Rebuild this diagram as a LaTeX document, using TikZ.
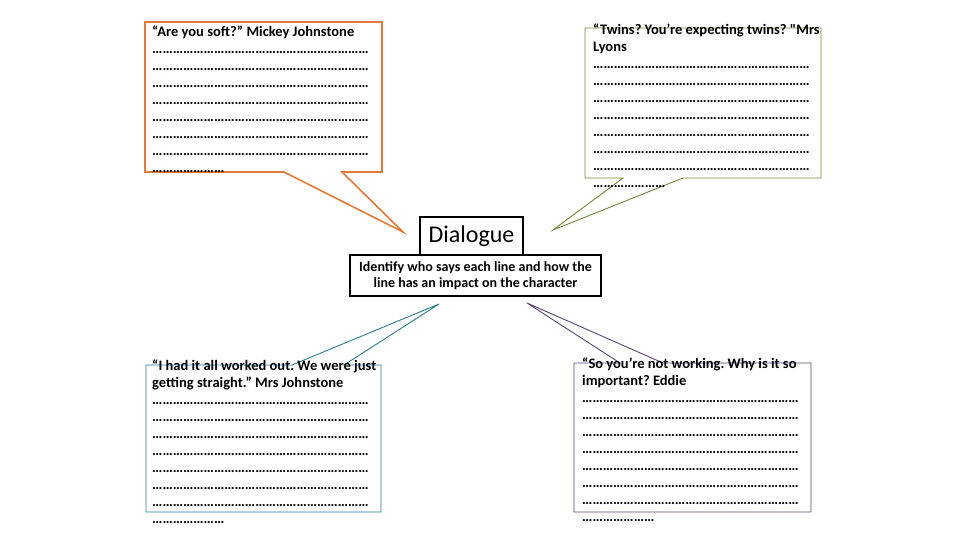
\documentclass[tikz,border=0pt]{standalone}
\usepackage{fontspec}
\newfontfamily\slide{Carlito}
\frenchspacing
\definecolor{ink}{HTML}{000000}
\definecolor{mickey}{HTML}{E07B3A}
\definecolor{lyons}{HTML}{6F8A38}
\definecolor{mrsj}{HTML}{2C7C92}
\definecolor{eddie}{HTML}{5A4474}
\usetikzlibrary{positioning}
% 21 and 7 ellipses
\newcommand{\dotseven}{…………………}
\newcommand{\dotrow}{\dotseven\dotseven\dotseven}
\newcommand{\dotend}{\dotseven}
\tikzset{
  every picture/.style={line join=miter},
  bubble/.style={line width=0.9pt, fill=white},
  said/.style={font=\slide\fontsize{14.5}{17}\selectfont\bfseries, align=left,
    anchor=north west, inner sep=0pt, text=ink},
  heading/.style={draw=ink, line width=1.5pt, fill=white, inner sep=0pt,
    font=\slide\fontsize{24}{28}\selectfont, minimum width=103pt, minimum height=38pt},
  brief/.style={draw=ink, line width=1.5pt, fill=white, inner sep=0pt, align=center,
    font=\slide\fontsize{14}{16}\selectfont\bfseries, minimum width=251pt, minimum height=41pt}
}
\begin{document}
\begin{tikzpicture}[x=1pt, y=-1pt]
  \useasboundingbox (0,0) rectangle (960,540);

  % Centre
  \node[heading] (dlg) at (471.5,236) {\raisebox{-2pt}{Dialogue}};
  \node[brief, below=-1.5pt of dlg, xshift=4pt] (task)
    {Identify who says each line and how the\\line has an impact on the character};

  % Tips of the speech bubbles
  \coordinate (tipTL) at (403,232);
  \coordinate (tipTR) at (553,230);
  \coordinate (tipBL) at (439,304);
  \coordinate (tipBR) at (527,303);

  % Bubbles
  \draw[bubble, draw=mickey, line width=1.6pt] (145,22) -- (382,22) -- (382,172) -- (342,172)
    -- (tipTL) -- (284,172) -- (145,172) -- cycle;
  \draw[bubble, draw=lyons] (585,28) -- (821,28) -- (821,178) -- (683,178)
    -- (tipTR) -- (623,178) -- (585,178) -- cycle;
  \draw[bubble, draw=mrsj] (146,365) -- (292,365) -- (tipBL) -- (344,365)
    -- (381,365) -- (381,512) -- (146,512) -- cycle;
  \draw[bubble, draw=eddie] (574,363) -- (620,363) -- (tipBR) -- (663,363)
    -- (811,363) -- (811,512) -- (574,512) -- cycle;

  % Lines
  \node[said] (mickeyTxt) at (152,26) {“Are you soft?” Mickey Johnstone\\
    \dotrow\\\dotrow\\\dotrow\\\dotrow\\\dotrow\\\dotrow\\\dotrow\\\dotend};
  \node[said] (lyonsTxt) at (593,24) {“Twins? You’re expecting twins? "Mrs\\Lyons\\
    \dotrow\\\dotrow\\\dotrow\\\dotrow\\\dotrow\\\dotrow\\\dotrow\\\dotend};
  \node[said] (mrsjTxt) at (152,360) {“I had it all worked out. We were just\\
    getting straight.” Mrs Johnstone\\
    \dotrow\\\dotrow\\\dotrow\\\dotrow\\\dotrow\\\dotrow\\\dotrow\\\dotend};
  \node[said] (eddieTxt) at (582,358) {“So you’re not working. Why is it so\\
    important? Eddie\\
    \dotrow\\\dotrow\\\dotrow\\\dotrow\\\dotrow\\\dotrow\\\dotrow\\\dotend};
\end{tikzpicture}
\end{document}
